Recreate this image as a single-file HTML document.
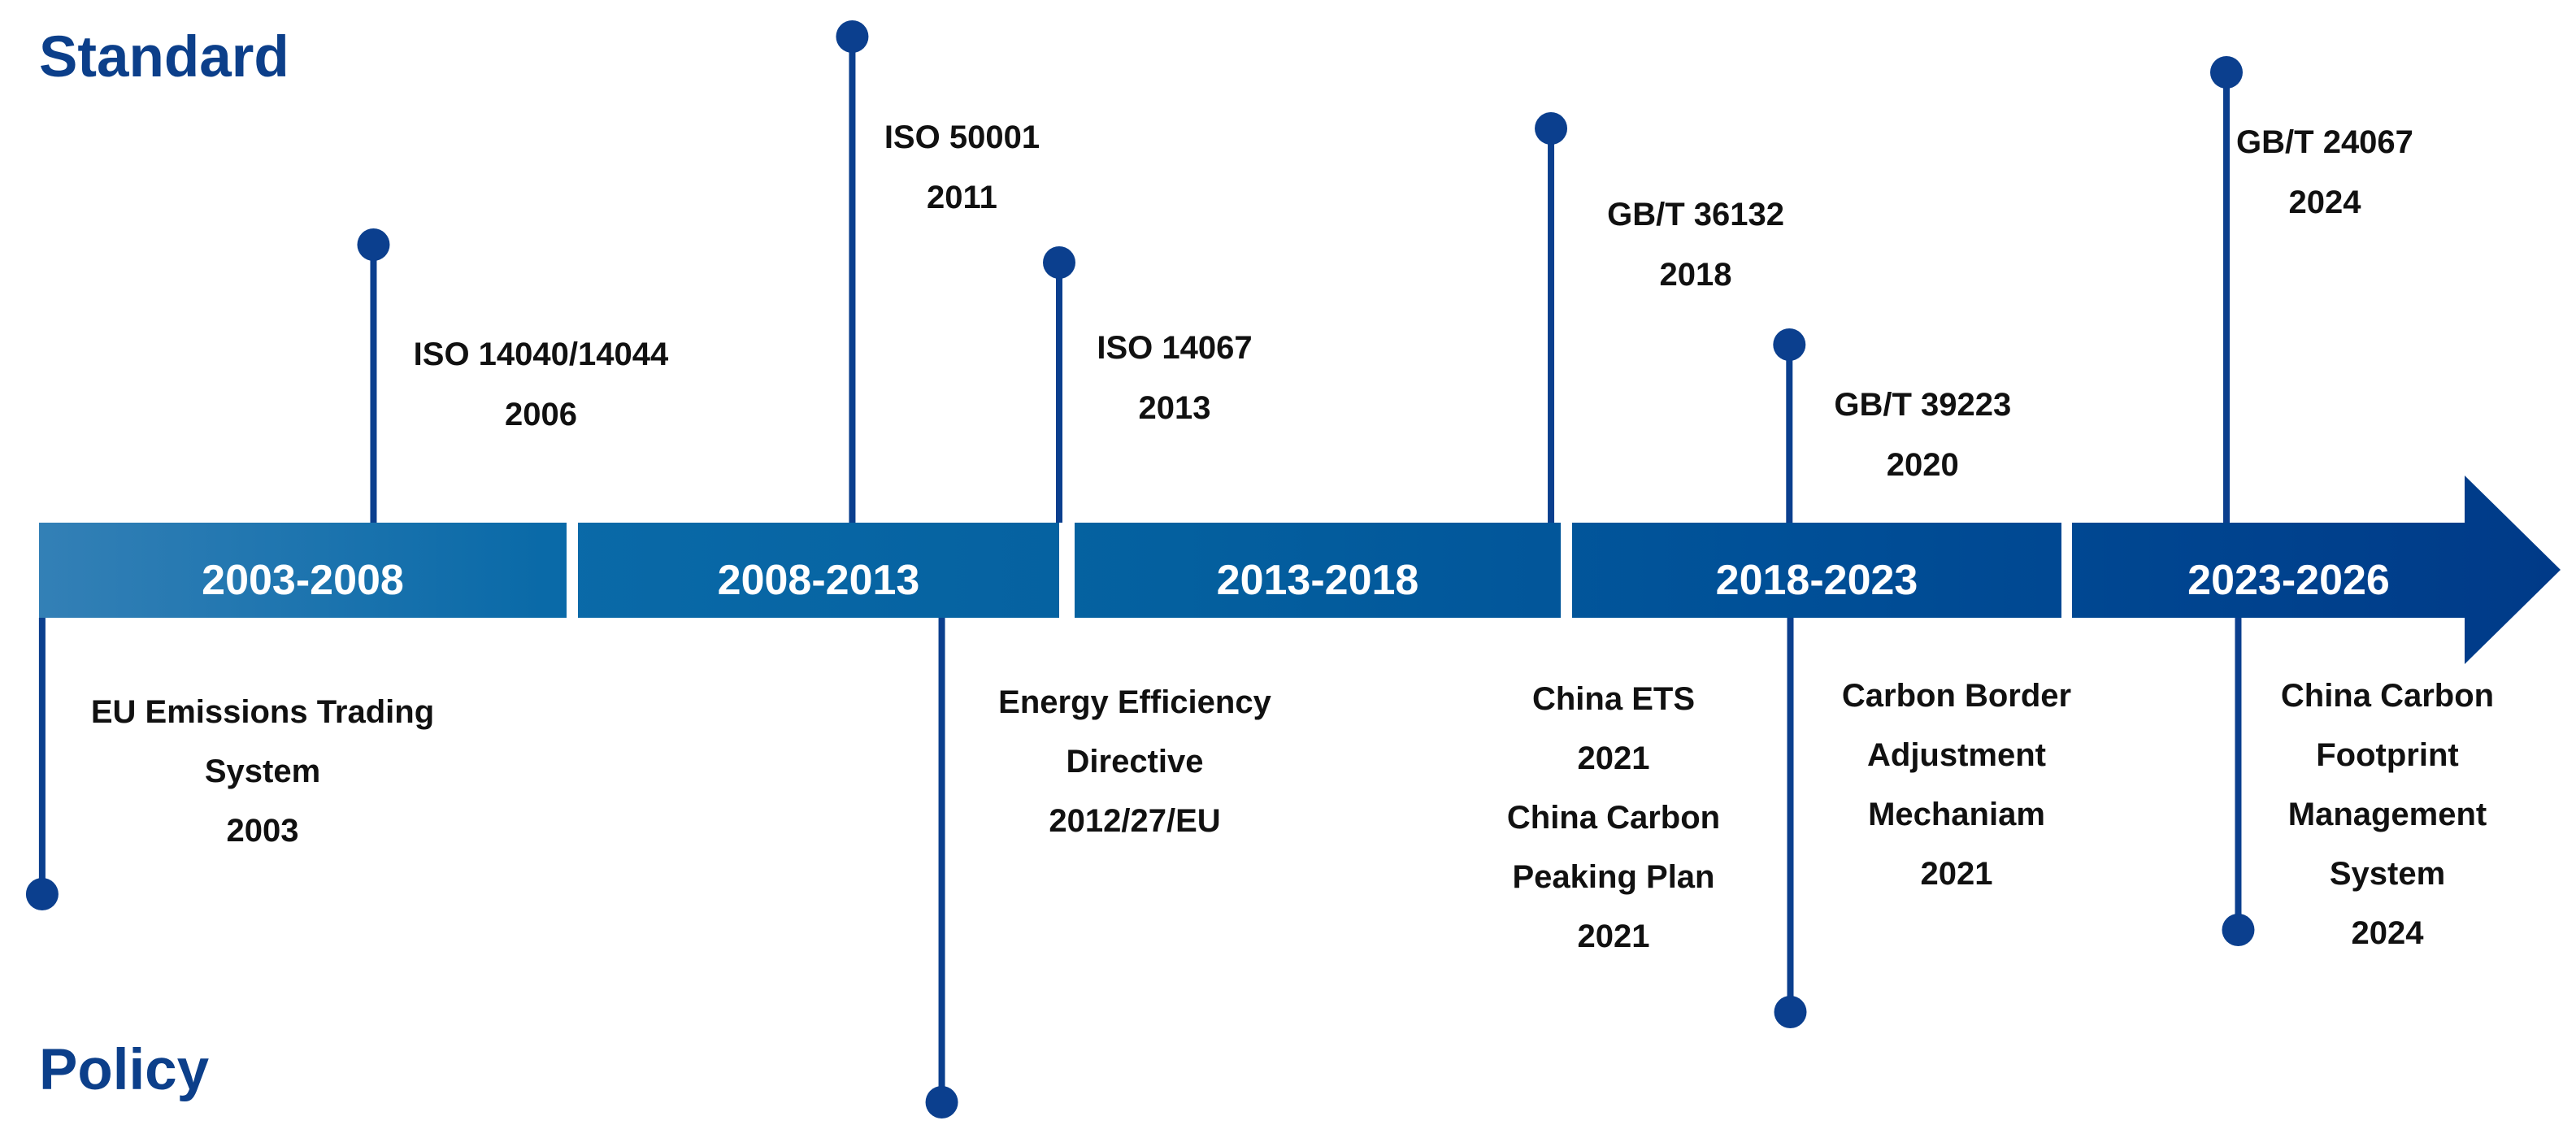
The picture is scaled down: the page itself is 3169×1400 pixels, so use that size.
<!DOCTYPE html>
<html><head><meta charset="utf-8"><style>
html,body{margin:0;padding:0;background:#fff;}
svg{display:block;font-family:"Liberation Sans",sans-serif;}
</style></head><body>
<svg id="chart" width="3169" height="1400" viewBox="0 0 3169 1400">
<defs>
<linearGradient id="bandGrad" gradientUnits="userSpaceOnUse" x1="48" y1="0" x2="3150" y2="0">
<stop offset="0" stop-color="#3380b6"/>
<stop offset="0.2" stop-color="#0a6aa8"/>
<stop offset="0.45" stop-color="#04609f"/>
<stop offset="0.7" stop-color="#004f97"/>
<stop offset="1" stop-color="#003a88"/>
</linearGradient>
</defs>
<text x="48" y="94" font-size="71" font-weight="bold" fill="#0c3f8a">Standard</text>
<text x="48" y="1340" font-size="71" font-weight="bold" fill="#0c3f8a">Policy</text>
<g id="bands"></g>
<g id="stems"></g>
<g id="labels"></g>
</svg>
<script>
const periods = ["2003-2008","2008-2013","2013-2018","2018-2023","2023-2026"];
const periodStart = [2003,2008,2013,2018,2023];
const periodEnd = [2008,2013,2018,2023,2026];
const stdNames = [["ISO 14040/14044","2006"],["ISO 50001","2011"],["ISO 14067","2013"],["GB/T 36132","2018"],["GB/T 39223","2020"],["GB/T 24067","2024"]];
const stdPos = [2006.17, 2010.85, 2013.0, 2017.9, 2020.22, 2024.18];
const stdHeight = [342, 598, 320, 485, 219, 554];
const polNames = [["EU Emissions Trading","System","2003"],["Energy Efficiency","Directive","2012/27/EU"],["China ETS","2021","China Carbon","Peaking Plan","2021"],["Carbon Border","Adjustment","Mechaniam","2021"],["China Carbon","Footprint","Management","System","2024"]];
const polPos = [2003.03, 2011.78, 2017.28, 2020.23, 2024.27];
const polDepth = [340, 596, 0, 485, 384];

const NS="http://www.w3.org/2000/svg";
const segX0=[48,711,1322,1934,2549], segX1=[697,1303,1920,2536,3032];
function xOf(y){
  for(let i=0;i<periodStart.length;i++){
    if(y>=periodStart[i]&&y<=periodEnd[i]){
      return segX0[i]+(y-periodStart[i])/(periodEnd[i]-periodStart[i])*(segX1[i]-segX0[i]);
    }
  }
  return segX0[0];
}
const barTop=643, barBot=760;
function mk(tag,attrs,parent){const e=document.createElementNS(NS,tag);for(const k in attrs)e.setAttribute(k,attrs[k]);parent.appendChild(e);return e;}
const gB=document.getElementById('bands'), gS=document.getElementById('stems'), gL=document.getElementById('labels');
const bandShift=[0,0,0,0,25];
periods.forEach((p,i)=>{
  let el;
  if(i===periods.length-1){
    el=mk('polygon',{points:`${segX0[i]},${barTop} ${segX1[i]},${barTop} ${segX1[i]},585 3150,701 ${segX1[i]},817 ${segX1[i]},${barBot} ${segX0[i]},${barBot}`,fill:'url(#bandGrad)'},gB);
  } else {
    el=mk('rect',{x:segX0[i],y:barTop,width:segX1[i]-segX0[i],height:barBot-barTop,fill:'url(#bandGrad)'},gB);
  }
  
  
  const t=mk('text',{x:(segX0[i]+segX1[i])/2+bandShift[i],y:731,'font-size':52,'font-weight':'bold',fill:'#fff','text-anchor':'middle'},gB);
  t.textContent=p;
  
  
});
const stemColor="#0b3f8e";
const stdLabelDx=[206,135,142,178,164,121];
const stdLabelY=[449,182,441,277,511,188];
stdNames.forEach((n,i)=>{
  const x=xOf(stdPos[i]), yd=barTop-stdHeight[i];
  const l=mk('line',{x1:x,y1:barTop,x2:x,y2:yd,stroke:stemColor,'stroke-width':8},gS);
  
  
  const c=mk('circle',{cx:x,cy:yd,r:20,fill:stemColor},gS);
  
  
  n.forEach((s,j)=>{
    const t=mk('text',{x:x+stdLabelDx[i],y:stdLabelY[i]+j*74,'font-size':40,'font-weight':'bold',fill:'#111','text-anchor':'middle'},gL);
    t.textContent=s;
    
    
  });
});
const cxs=[323,1396,1985,2407,2937];
const y0=[889,877,873,869,869];
polNames.forEach((n,i)=>{
  const x=xOf(polPos[i]);
  if(polDepth[i]>0){
    const yd=barBot+polDepth[i];
    const l=mk('line',{x1:x,y1:barBot,x2:x,y2:yd,stroke:stemColor,'stroke-width':8},gS);
    
    
    const c=mk('circle',{cx:x,cy:yd,r:20,fill:stemColor},gS);
    
    
  }
  n.forEach((s,j)=>{
    const t=mk('text',{x:cxs[i],y:y0[i]+j*73,'font-size':40,'font-weight':'bold',fill:'#111','text-anchor':'middle'},gL);
    t.textContent=s;
    
    
  });
});
</script>
</body></html>
